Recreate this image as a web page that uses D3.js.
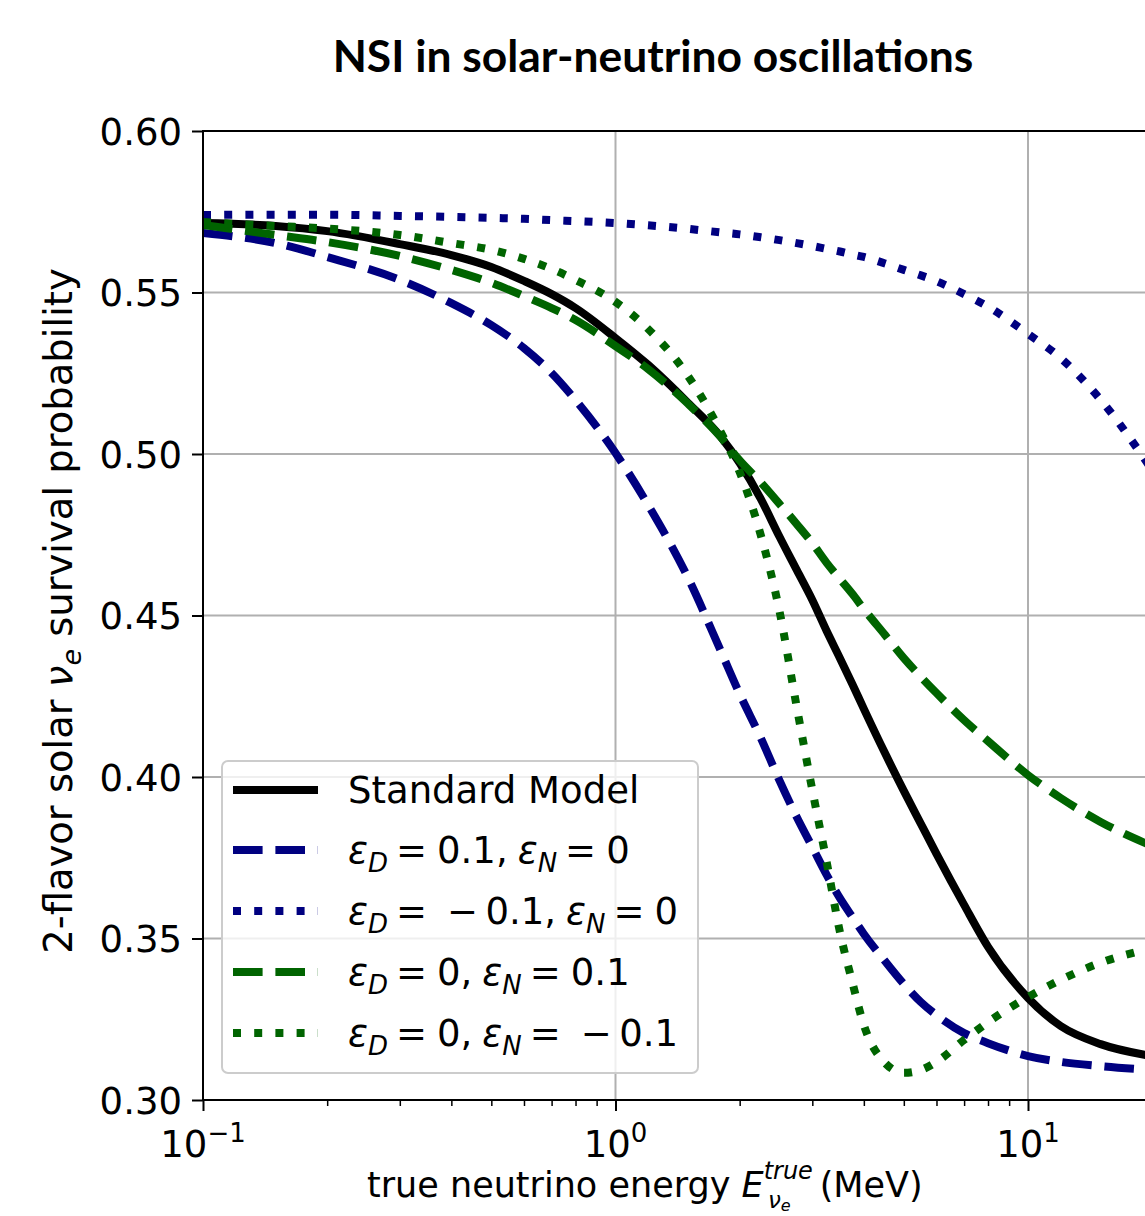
<!DOCTYPE html>
<html>
<head>
<meta charset="utf-8">
<script src="https://cdn.jsdelivr.net/npm/d3@7"></script>
<style>
  html, body { margin: 0; padding: 0; background: #ffffff; }
  svg { display: block; }
  text { font-family: "DejaVu Sans", sans-serif; fill: #000; }
</style>
</head>
<body>
<svg id="chart" width="1145" height="1216"></svg>
<script>
// ---------------- data ----------------
const chartTitle = "NSI in solar-neutrino oscillations";
const energies = [0.1, 0.15, 0.2, 0.3, 0.4, 0.5, 0.6, 0.7, 0.8, 1.0, 1.2, 1.5, 1.8, 2.0, 2.25, 2.5, 2.75,
                  3.0, 3.25, 3.5, 3.75, 4.0, 4.5, 5.0, 5.5, 6.0, 7.0, 8.0, 10, 12, 15, 20];
const standardModel = [0.5715, 0.5706, 0.5690, 0.5650, 0.5616, 0.5579, 0.5536, 0.5495, 0.5452, 0.5359, 0.5276,
                       0.5158, 0.5053, 0.4972, 0.4861, 0.4743, 0.4641, 0.4548, 0.4452, 0.4368, 0.4288, 0.4211,
                       0.4074, 0.3957, 0.3855, 0.3762, 0.3604, 0.3474, 0.3316, 0.3229, 0.3173, 0.3136];
const epsDplus = [0.5684, 0.5653, 0.5610, 0.5539, 0.5467, 0.5399, 0.5328, 0.5251, 0.5167, 0.5003, 0.4842,
                  0.4616, 0.4390, 0.4257, 0.4121, 0.3988, 0.3876, 0.3783, 0.3697, 0.3625, 0.3567, 0.3514,
                  0.3430, 0.3359, 0.3303, 0.3263, 0.3207, 0.3176, 0.3136, 0.3118, 0.3105, 0.3093];
const epsDminus = [0.5740, 0.5741, 0.5741, 0.5737, 0.5734, 0.5731, 0.5728, 0.5724, 0.5721, 0.5715, 0.5708,
                   0.5697, 0.5686, 0.5680, 0.5671, 0.5662, 0.5653, 0.5644, 0.5635, 0.5627, 0.5618, 0.5610,
                   0.5590, 0.5570, 0.5553, 0.5535, 0.5495, 0.5456, 0.5372, 0.5297, 0.5168, 0.4950];
const epsNplus = [0.5709, 0.5678, 0.5656, 0.5613, 0.5570, 0.5530, 0.5489, 0.5452, 0.5415, 0.5334, 0.5263,
                  0.5155, 0.5052, 0.4980, 0.4912, 0.4845, 0.4783, 0.4724, 0.4663, 0.4613, 0.4567, 0.4520,
                  0.4440, 0.4368, 0.4310, 0.4260, 0.4176, 0.4111, 0.4006, 0.3935, 0.3861, 0.3786];
const epsNminus = [0.5718, 0.5706, 0.5698, 0.5678, 0.5653, 0.5632, 0.5604, 0.5573, 0.5539, 0.5471, 0.5387,
                   0.5241, 0.5068, 0.4944, 0.4749, 0.4511, 0.4217, 0.3960, 0.3737, 0.3520, 0.3365, 0.3232,
                   0.3115, 0.3084, 0.3093, 0.3118, 0.3186, 0.3241, 0.3319, 0.3372, 0.3425, 0.3470];
const yTicks = [0.30, 0.35, 0.40, 0.45, 0.50, 0.55, 0.60];
const yTickLabels = ["0.30", "0.35", "0.40", "0.45", "0.50", "0.55", "0.60"];
const xMajorTicks = [0.1, 1, 10];
const xTickExponents = ["\u22121", "0", "1"];

// ---------------- layout ----------------
const svg = d3.select("#chart");
const plotLeft = 203, plotTop = 131, plotBottom = 1100;
const decadePx = 412.5;
const xDomain = [0.1, 20];
const plotRight = plotLeft + decadePx * Math.log10(xDomain[1] / xDomain[0]);

const x = d3.scaleLog().domain(xDomain).range([plotLeft, plotRight]);
const y = d3.scaleLinear().domain([0.30, 0.60]).range([plotBottom, plotTop]);

const lw = 8;
const styles = [
  { data: standardModel, color: "#000000", dash: null },
  { data: epsDplus, color: "#000080", dash: `${3.7*lw},${1.6*lw}` },
  { data: epsDminus, color: "#000080", dash: `${1*lw},${1.65*lw}` },
  { data: epsNplus, color: "#006400", dash: `${3.7*lw},${1.6*lw}` },
  { data: epsNminus, color: "#006400", dash: `${1*lw},${1.65*lw}` }
];

// clip
svg.append("defs").append("clipPath").attr("id", "plotclip")
  .append("rect").attr("x", plotLeft).attr("y", plotTop)
  .attr("width", plotRight - plotLeft).attr("height", plotBottom - plotTop);

// grid
const grid = svg.append("g").attr("class", "grid");
yTicks.forEach(t => {
  grid.append("line").attr("x1", plotLeft).attr("x2", plotRight)
    .attr("y1", y(t)).attr("y2", y(t))
    .attr("stroke", "#b0b0b0").attr("stroke-width", 2);
});
xMajorTicks.forEach(t => {
  grid.append("line").attr("x1", x(t)).attr("x2", x(t))
    .attr("y1", plotTop).attr("y2", plotBottom)
    .attr("stroke", "#b0b0b0").attr("stroke-width", 2);
});

// lines
const line = d3.line()
  .x((d, i) => x(energies[i]))
  .y(d => y(d))
  .curve(d3.curveMonotoneX);

const linesG = svg.append("g").attr("clip-path", "url(#plotclip)");
styles.forEach(s => {
  linesG.append("path")
    .attr("d", line(s.data))
    .attr("fill", "none")
    .attr("stroke", s.color)
    .attr("stroke-width", lw)
    .attr("stroke-linecap", "butt")
    .attr("stroke-linejoin", "round")
    .attr("stroke-dasharray", s.dash);
});

// spines
svg.append("line").attr("x1", plotLeft).attr("x2", plotLeft).attr("y1", plotTop - 1).attr("y2", plotBottom + 1)
  .attr("stroke", "#000").attr("stroke-width", 2);
svg.append("line").attr("x1", plotLeft).attr("x2", plotRight).attr("y1", plotBottom).attr("y2", plotBottom)
  .attr("stroke", "#000").attr("stroke-width", 2);
svg.append("line").attr("x1", plotLeft).attr("x2", plotRight).attr("y1", plotTop).attr("y2", plotTop)
  .attr("stroke", "#000").attr("stroke-width", 2);
svg.append("line").attr("x1", plotRight).attr("x2", plotRight).attr("y1", plotTop).attr("y2", plotBottom)
  .attr("stroke", "#000").attr("stroke-width", 2);

// y ticks
const yAxis = d3.axisLeft(y).tickValues(yTicks).tickFormat((d, i) => yTickLabels[i])
  .tickSize(11).tickPadding(10);
const yG = svg.append("g").attr("transform", `translate(${plotLeft},0)`).call(yAxis);
yG.select(".domain").remove();
yG.selectAll(".tick line").attr("stroke-width", 2);
yG.selectAll(".tick text").attr("font-size", 37).style("font-family", "'DejaVu Sans'").attr("dy", "0.36em");

// x ticks: major
const xAxis = d3.axisBottom(x).tickValues(xMajorTicks).tickFormat(() => "").tickSize(11);
const xG = svg.append("g").attr("transform", `translate(0,${plotBottom})`).call(xAxis);
xG.select(".domain").remove();
xG.selectAll(".tick line").attr("stroke-width", 2);

// x minor ticks
const minorTicks = [];
[0.1, 1, 10].forEach(dec => {
  for (let m = 2; m <= 9; m++) {
    const v = +(dec * m).toPrecision(3);
    if (v <= xDomain[1]) minorTicks.push(v);
  }
});
const xMinor = d3.axisBottom(x).tickValues(minorTicks).tickFormat(() => "").tickSize(6);
const xmG = svg.append("g").attr("transform", `translate(0,${plotBottom})`).call(xMinor);
xmG.select(".domain").remove();
xmG.selectAll(".tick line").attr("stroke-width", 1.5);

// x tick labels (10^n)
xMajorTicks.forEach((t, i) => {
  const tx = svg.append("text")
    .attr("x", x(t)).attr("y", 1157)
    .attr("text-anchor", "middle")
    .attr("font-size", 37);
  tx.append("tspan").text("10");
  tx.append("tspan").attr("font-size", 26).attr("dy", -15).text(xTickExponents[i]);
});

// title (Calibri-like bold, fitted to the reference width)
const title = svg.append("text")
  .attr("x", 653).attr("y", 72)
  .attr("text-anchor", "middle")
  .style("font-family", "Lato, 'Open Sans', sans-serif")
  .style("font-weight", "700")
  .attr("font-size", 38)
  .text(chartTitle);
{
  const w = title.node().getComputedTextLength();
  title.attr("font-size", 38 * 641 / w);
}

// y label
const ylab = svg.append("text")
  .attr("transform", "translate(72,611) rotate(-90)")
  .attr("text-anchor", "middle")
  .attr("font-size", 38.5);
ylab.append("tspan").text("2-flavor solar ");
ylab.append("tspan").attr("font-style", "italic").text("\u03bd");
ylab.append("tspan").attr("font-style", "italic").attr("font-size", 27).attr("dy", 9).text("e");
ylab.append("tspan").attr("dy", -9).text(" survival probability");

// x label
const xlab = svg.append("text")
  .attr("x", 367).attr("y", 1197)
  .attr("text-anchor", "start")
  .attr("font-size", 35);
xlab.append("tspan").text("true neutrino energy ");
xlab.append("tspan").attr("font-style", "italic").text("E");
xlab.append("tspan").attr("font-style", "italic").attr("font-size", 24).attr("dy", -18).text("true");
xlab.append("tspan").attr("font-style", "italic").attr("font-size", 23).attr("dy", 29).attr("dx", -45).text("\u03bd");
xlab.append("tspan").attr("font-style", "italic").attr("font-size", 16).attr("dy", 3).text("e");
xlab.append("tspan").attr("dy", -14).attr("dx", 18).text(" (MeV)");

// legend
const legend = svg.append("g");
legend.append("rect")
  .attr("x", 222).attr("y", 761).attr("width", 476).attr("height", 312)
  .attr("rx", 6).attr("ry", 6)
  .attr("fill", "#ffffff").attr("fill-opacity", 0.8)
  .attr("stroke", "#cccccc").attr("stroke-width", 2);

const legendRows = [790, 850, 911, 972, 1033];
const legendEntries = [
  { plain: "Standard Model" },
  { d: "0.1", n: "0" },
  { d: "\u2212\u20090.1", n: "0", spaceAfterEq: true },
  { d: "0", n: "0.1" },
  { d: "0", n: "\u2212\u20090.1", spaceAfterEqN: true }
];
styles.forEach((s, i) => {
  const ly = legendRows[i];
  legend.append("line")
    .attr("x1", 233).attr("x2", 318).attr("y1", ly).attr("y2", ly)
    .attr("stroke", s.color).attr("stroke-width", lw)
    .attr("stroke-dasharray", s.dash);
  const e = legendEntries[i];
  const t = legend.append("text").attr("x", 348).attr("y", ly + 13).attr("font-size", 37);
  if (e.plain) {
    t.text(e.plain);
  } else {
    t.append("tspan").attr("font-style", "italic").text("\u03b5");
    t.append("tspan").attr("font-style", "italic").attr("font-size", 26).attr("dy", 9).text("D");
    t.append("tspan").attr("dy", -9).attr("dx", 8).text("=");
    t.append("tspan").attr("dx", e.spaceAfterEq ? 20 : 10).text(e.d + ",");
    t.append("tspan").attr("dx", 10).attr("font-style", "italic").text("\u03b5");
    t.append("tspan").attr("font-style", "italic").attr("font-size", 26).attr("dy", 9).text("N");
    t.append("tspan").attr("dy", -9).attr("dx", 8).text("=");
    t.append("tspan").attr("dx", e.spaceAfterEqN ? 20 : 10).text(e.n);
  }
});
</script>
</body>
</html>
